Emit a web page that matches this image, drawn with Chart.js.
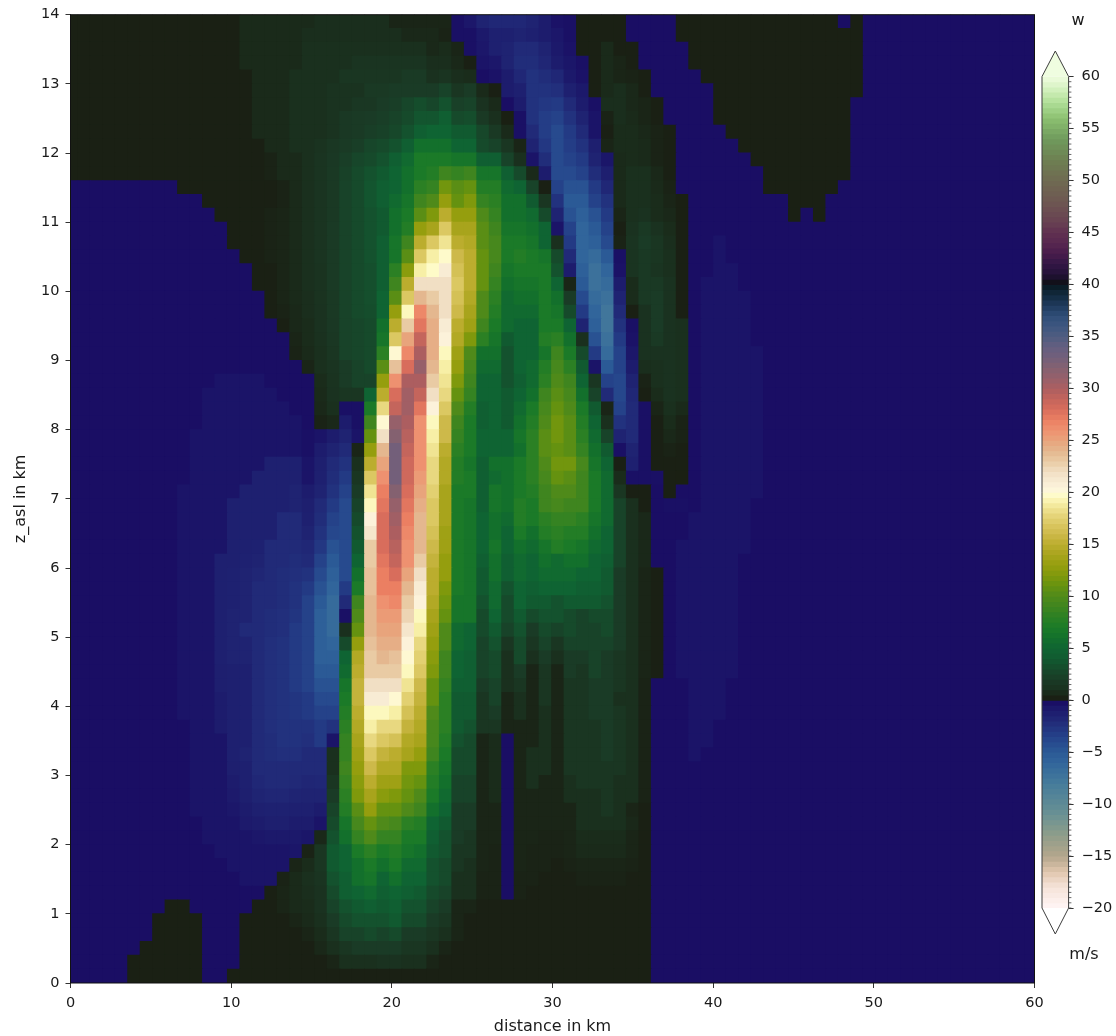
<!DOCTYPE html>
<html>
<head>
<meta charset="utf-8">
<title>w section</title>
<script src="https://cdn.jsdelivr.net/npm/chart.js@4/dist/chart.umd.js"></script>
<style>
  html, body { margin: 0; padding: 0; background: #fff; overflow: hidden; }
  #field { position: absolute; left: 0; top: 0; }
  #cbar { position: absolute; left: 1036px; top: 0; }
</style>
</head>
<body>
<canvas id="field" width="1116" height="1036"></canvas>
<canvas id="cbar" width="80" height="1036"></canvas>
<script>
// column centres in km
const xCentres = [0.07,0.846,1.622,2.398,3.174,3.95,4.726,5.502,6.278,7.054,7.83,8.606,9.382,10.158,10.934,11.71,12.486,13.262,14.038,14.814,15.59,16.366,17.142,17.918,18.694,19.47,20.246,21.022,21.798,22.574,23.35,24.126,24.902,25.678,26.454,27.23,28.006,28.782,29.558,30.334,31.11,31.886,32.662,33.438,34.214,34.99,35.766,36.542,37.318,38.094,38.87,39.646,40.422,41.198,41.974,42.75,43.526,44.302,45.078,45.854,46.63,47.406,48.182,48.958,49.734,50.51,51.286,52.062,52.838,53.614,54.39,55.166,55.942,56.718,57.494,58.27,59.046,59.822];
// row edges in km
const zEdges = [0,.2,.4,.6,.8,1,1.2,1.4,1.6,1.8,2,2.2,2.4,2.6,2.8,3,3.2,3.4,3.6,3.8,4,4.2,4.4,4.6,4.8,5,5.2,5.4,5.6,5.8,6,6.2,6.4,6.6,6.8,7,7.2,7.4,7.6,7.8,8,8.2,8.4,8.6,8.8,9,9.2,9.4,9.6,9.8,10,10.2,10.4,10.6,10.8,11,11.2,11.4,11.6,11.8,12,12.2,12.4,12.6,12.8,13,13.2,13.4,13.6,13.8,14];

// w in m/s, rows from the ground up, "v*n" = n cells of v
// columns 0-21
const wWest = [
"-.2*5 .3*6 -.2*2 .3*9",
"-.2*5 .3*6 -.2*3 .3*7 .5",
"-.2*6 .3*5 -.2*3 .3*6 .6 1",
"-.2*7 .3*4 -.2*3 .3*5 .5 .8 1.5",
"-.2*7 .3*4 -.2*3 .3*4 .5 .7 1 2",
"-.2*8 .3*2 -.2*5 .3 .3 .5 .7 .8 1.2 2.5",
"-.2*16 .3 .5 .7 .9 1.2 3",
"-.2*14 -.5*3 .4 .7 1 1.4 3.5",
"-.2*13 -.5*5 .5 .8 1.5 4",
"-.2*12 -.5*6 -.6 .4 1.5 4",
"-.2*11 -.5*4 -.7 -.8 -.8 -.8 -.6 .6 3.5",
"-.2*11 -.5*3 -.9 -1 -1.2 -1.2 -1 -1 -.5 3",
"-.2*10 -.5*3 -.7 -1 -1.3 -1.4 -1.4 -1.3 -1.3 -1 2.5",
"-.2*10 -.5*3 -.9 -1.2 -1.6 -1.7 -1.7 -1.6 -1.5 -1.5 2",
"-.2*10 -.5*3 -1 -1.3 -1.8 -2 -2 -1.9 -1.7 -1.8 1.5",
"-.2*10 -.5*3 -1.2 -1.3 -2 -2 -2 -2 -2 -2 1",
"-.2*10 -.5*3 -1.3 -1.5 -2 -2.2 -2.3 -2.3 -2 -2 1",
"-.2*10 -.5*3 -1.3*2 -2 -2.2 -2.5 -2.5 -2.3 -3 -.5",
"-.2*10 -.5*2 -1 -1.3*2 -2 -2.3 -2.5 -2.5 -2.5 -3 -2.5",
"-.2*9 -.5*3 -1 -1.3*2 -2 -2.3 -2.5 -2.7 -3 -3.5 -3.5",
"-.2*9 -.5*3 -1 -1.3*2 -2 -2.3 -2.5 -2.7 -3 -4 -4",
"-.2*9 -.5*3 -1.2 -1.3*2 -2 -2.3 -2.5 -3 -3.5 -4.5 -4.5",
"-.2*9 -.5*3 -1.2 -1.3*2 -2 -2.3 -2.5 -3 -3.5 -5 -5",
"-.2*9 -.5*3 -1.3 -1.5*2 -2 -2.3 -2.5 -3 -3.5 -5.5 -5.5",
"-.2*9 -.5*3 -1.3 -1.5*2 -2 -2.3 -2.5 -3 -3.5 -5.5 -6",
"-.2*9 -.5*3 -1.3 -1.5 -2 -2 -2.2 -2.3 -3 -3.5 -5.5 -6.5",
"-.2*9 -.5*3 -1.3 -1.5 -1.5 -2 -2.2 -2.3 -2.7 -3.5 -5.5 -6.5",
"-.2*9 -.5*3 -1.3 -1.4 -1.5 -2 -2 -2.2 -2.5 -3.5 -5 -6.5",
"-.2*9 -.5*3 -1.3 -1.4 -1.5 -2 -2 -2.2 -2.5 -3 -4.5 -6",
"-.2*9 -.5*3 -1.3 -1.4 -1.5 -1.7 -2 -2.2 -2.3 -2.5 -4 -5.5",
"-.2*9 -.5*3 -1.3 -1.3 -1.4 -1.5 -2 -2 -2.2 -2 -3.5 -5",
"-.2*9 -.5*4 -1.3 -1.3 -1.4 -2 -2 -2 -1.8 -2.8 -4.5",
"-.2*9 -.5*4 -1.3 -1.3 -1.3 -1.3 -2 -2 -1.5 -2.5 -3.8",
"-.2*9 -.5*4 -1.3*4 -2 -2 -1.3 -2.2 -3.5",
"-.2*9 -.5*4 -1.3*5 -1.5 -1.2 -2 -3",
"-.2*9 -.5*5 -1.3*4 -1.5 -1 -1.5 -2.5",
"-.2*10 -.5*5 -1.3*4 -.5 -1.3 -2.2",
"-.2*10 -.5*6 -1.3*3 -.5 -1.2 -2",
"-.2*10 -.5*9 -.3 -1 -1.5",
"-.2*10 -.5*9 -.3 -.5 -1",
"-.2*11 -.5*8 -.2 .4 .6",
"-.2*11 -.5*7 -.2*2 .6 1",
"-.2*11 -.5*6 -.2*3 .7 1.2",
"-.2*12 -.5*4 -.2*4 .8 1.3",
"-.2*19 .5 1 1.4",
"-.2*18 .4 .7 1 1.5",
"-.2*18 .5 .8 1.1 1.6",
"-.2*17 .3 .6 .8 1.2 1.7",
"-.2*16 .3 .4 .6 .9 1.2 1.8",
"-.2*16 .3 .5 .7 .9 1.3 1.8",
"-.2*15 .3 .3 .5 .7 1 1.3 1.9",
"-.2*15 .3 .3 .5 .7 1 1.3 1.9",
"-.2*14 .3 .3 .4 .5 .7 1 1.4 1.9",
"-.2*13 .3 .3 .3 .4 .5 .7 1 1.4 1.9",
"-.2*13 .3 .3 .3 .4 .5 .7 1 1.4 1.9",
"-.2*12 .3*4 .4 .5 .7 1 1.4 1.8",
"-.2*11 .3*5 .3 .4 .7 1 1.4 1.8",
"-.2*9 .3*7 .3 .4 .7 1 1.4 1.8",
".3*16 .4 .7 .7 1 1.4 1.8",
".3*16 .4 .7 .7 1 1.4 1.7",
".3*16 .7 .7 1 1 1.3 1.6",
".3*15 .7*3 1*3 1.3",
".3*15 .7*3 1*3 1.3",
".3*15 .7*3 1*3 1.3",
".3*15 .7*3 1*3 1.3",
".3*15 .7*3 1*4",
".3*14 .7*5 1*3",
".3*14 .7*5 1*3",
".3*14 .7*5 .9*3",
".3*14 .7*6 .9*2"
];
// columns 22-49
const wCore = [
".3*25 -.2*3",
"1 1 1 1.2 1.2 1 1 .5 .3*17 -.2*3",
"1.5 2 2 2 2 1.5 1.5 1 .5 .3*16 -.2*3",
"2.5 2.5 3 2.5 3 2 2 1.5 1 .5 .3*15 -.2*3",
"3 3.5 3.5 3.5 4 3 3 2 1.5 .5 .3*15 -.2*3",
"3.5 4 4.5 4 4.5 3.5 3.5 2.5 2 .5 .5 .3*14 -.2*3",
"4.5 5 5.5 4.5 5 4.5 4 3 2.5 1 1 .4 .4 -.2 .4 .3*10 -.2*3",
"4.5 6 6.5 5 6 5 5 3.5 3 1 1 .4 .4 -.2 .4 .4 .3 .3 .3 .4 .4 .4 .4 .3 .3 -.2*3",
"5 6 7 6 7 5.5 5.5 3.5 3 1.5 1 .5 .4 -.2 .5 .4 .4 .3 .4 .5 .5 .5 .5 .4 .3 -.2*3",
"5 7 8 7 7.5 6.5 6 4 3.5 1.5 1.5 .5 .4 -.2 .5 .4 .4 .4 .5 .7 .7 .7 .7 .5 .3 -.2*3",
"6 8.5 10 8.5 8.5 7 7 4.5 3.5 2 1.5 .5 .5 -.2 .5 .5 .4 .4 .5 .8 .8 .8 .8 .5 .3 -.2*3",
"6.5 9.5 11 10 9.5 8 7.5 5 4 2 2 .5 .5 -.2 .5 .5 .5 .5 .5 1 1 1 1 .6 .3 -.2*3",
"7.5 10.5 13 11 11 10 9 6 5 2 2 .5 .5 -.2 .5 .5 .5 .5 .5 1 1 1.5 1 .5 .3 -.2*3",
"8 12 14 12.5 12 11 10 7 5.5 2.5 2.5 .5 .8 -.2 .5 .5 .5 .5 1 1 1 1.5 1 1 .4 -.2*3",
"8.5 12.5 15 13.5 13.5 11.5 11 7.5 6 2.5 2.5 .5 .8 -.2 .5 1 .5 .5 1 1.5 1.5 1.5 1 1 .4 -.2*3",
"9 13 16 14.5 14.5 12 12 8 6.5 3 3 .5 .8 -.2 .5 1 1 .5 1.5 1.5 1.5 1.5 1.5 1 .4 -.2*3",
"8.5 13.5 17 15.5 15 14 13 9 7 3 3 .5 .8 -.2 .5 1 1 .5 1.5 1.5 1.5 2 1.5 1 .4 -.2*3",
"8.5 14 18 17 16.5 14.5 14 9.5 7.5 3.5 3 .5 .8 -.2 .5 .5 1 .5 1.5 1.5 1.5 2 1.5 1 .4 -.2*3",
"8 14.5 19 18 18 15.5 14.5 9.5 8 4 3.5 1.5 1.5 .5 .5 .5 1 .5 1.5 1.5 1.5 2 1.5 1 .4 -.2*3",
"7.5 15 19.5 19.5 19 16.5 15 10 8 4 4 1.5 2 .5 1 .5 1 .5 1.5 1.5 2 2 1.5 1 .4 -.2*3",
"7 15.5 21 21 20 17.5 15.5 11 8 4 4 1.5 2.5 .5 1 .5 1.5 .5 1.5 1.5 2 2 1 1 .4 -.2*3",
"6.5 15.5 22 22 22 18.5 16 11 8.5 4.5 4.5 2 2.5 1 1.5 .5 1.5 .5 1.5 1.5 2 2 1.5 1 .4 -.2*3",
"5.5 15 23 23 23 19.5 17 12 9 5 4.5 2.5 3 1 2 .5 1.5 .5 2 1.5 2.5 2 1.5 1 .5 .3 -.2 -.5",
"5 14.5 23 24 23.5 20 17.5 12.5 9 5 4.5 2.5 3 1 3 1 2 1 2 2 2.5 2 1.5 1 .5 .3 -.2 -.5",
"3 13 23.5 24.5 24.5 20.5 18 13 10 5.5 5 2.5 3.5 1.5 3 1.5 2.5 1.5 2.5 2.5 2.5 2.5 2 1 .5 .3 -.2 -.5",
"1 11 24 25 25 21.5 19 13.5 10 5.5 5 3 4 2.5 3.5 2 3 2.5 3 2.5 2.5 3 2 1 .5 .3 -.2 -.5",
"-.3 10 24 25.5 25.5 22.5 19.5 14 11 6.5 6.5 3 5 3 4 3 3.5 3.5 3 2.5 3 3 2 1 .5 .3 -.2 -.5",
"-2 9 24 26 26.5 23 20.5 14.5 11.5 6.5 6.5 3.5 5.5 3 5 4 4 3.5 4 4 4 3.5 2 1 .5 .3 -.2 -.5",
"-3 7 23.5 27 27 24 21 15 12 7 6.5 4 5.5 3.5 5 4.5 5 5 5 4.5 4.5 4 2 1 .5 .3 -.2 -.5",
"-4 6 23.5 27 28 25 22 15 13 7 6.5 4 6 4.5 5.5 5 5.5 5.5 5.5 5 5 4 2 1 .5 .3 -.2 -.5",
"-4 5 23 27.5 29 26 23 15.5 13 7 6.5 4.5 6 4.5 5.5 5 6 5.5 6 6 5 4.5 2.5 1 .6 -.2 -.2 -.5",
"-4 4 23 28 29.5 26 24 16 13.5 7 6.5 5 6.5 5 6 5.5 6.5 7.5 7 6.5 5.5 5 2.5 1 .6 -.2 -.2 -.5",
"-4 3.5 21.5 28 30 26.5 24 16.5 13.5 7 6.5 5 6 5 7 6 7.5 8 7.5 7.5 6 5 2.5 1 .6 -.2 -.2 -.2",
"-4 3 20.5 28 30.5 27 24 17 14 7 6.5 5 6 5.5 7.5 7 8 8.5 8.5 8 6.5 5.5 2.5 1 .6 -.2 -.2 -.2",
"-4 2.5 19.5 27.5 31 27.5 24.5 17 14 7 6.5 4.5 6.5 6 7.5 7 9 9.5 9 9 7 5.5 2.5 1 .3 -.2 -.3 -.3",
"-3.5 2 18.5 27 32 28 25 17.5 14 7 7 4.5 6.5 6 7 7.5 9 10 10 9 7 5.5 1.5 .3 .3 -.2 .3 -.2",
"-3 1.5 17 26 33 28.5 25.5 18 14.5 7.5 7 4.5 5.5 6 7 8 9.5 11 10.5 9 7 5.5 .8 -.3 -.3 -.3 .3 .2",
"-2.5 1 15 25 33 28.5 26 18 14.5 7.5 6.5 4.5 6 6 7 8 10 11.5 11.5 9.5 6.5 5 .3 -1.3 -.3 .3 .3 .3",
"-2 .5 13 24 33 29 26 18.5 15 8 7 5 5 5 6 8 10.5 11 10.5 8.5 6 4 -.3 -1.5 -.3 .3 .4 .3",
"-1.5 -.5 11 22 32 29.5 26 19 16 8.5 7 5 5 5 6.5 8 10.5 11.5 10.5 8 5.5 2.5 -1.5 -2 -.3 .3 .6 .4",
"-1 -.3 9 20 31 30 26 19.5 16 9 7 4.5 5 4 6 7.5 10 11.5 10.5 7.5 5 1 -2.5 -2 -.3 .3 .8 .4",
"-.3 -.3 7 18 29 30.5 27.5 20.5 17 10 7.5 4.5 5 4 5.5 7 9.5 11 10 7 4 .5 -3.5 -2 -.3 .5 1 .7",
"1.5 1.5 5 15 28 30.5 29 22 18 11 8.5 5 5 4 5 6 9 10.5 9.5 6 2.5 -2 -3.8 -1.8 .3 .8 1.2 1",
"2 2.5 2.5 13 26 30 30 23 18.5 12 9 5 5 3.5 4.5 5.5 8 10 9 5 1.5 -3.5 -3.8 -1.5 .4 1 1.2 1",
"2 2.5 3 10.5 23.5 28 31 24 19 13 9.5 5.5 5.5 3.5 5 5.5 7.5 9.5 8 4 -.5 -5 -3.5 -1 .9 1 1.2 1",
"2.5 2.7 3 8 20 26.5 30 24.5 19.5 13.5 10 6 6 3.5 5 5 6.5 9 7 3 -3 -6.5 -3.5 -.7 1.2 1.2 1.2 1",
"2.5 2.7 3 6.5 17 25 29 24.5 20.5 14.5 12 8 6.5 4 5 5 7.5 8 6 1 -4.5 -7 -3 -.4 1.2 1.8 1.2 1",
"2.5 2.7 3 6 15 23 27.5 24.5 21 15 13.5 9 7 5.5 5 5 7 7 5 -1.5 -5.5 -7.5 -2.5 -.3 1.2 2 1.2 1",
"2.5 3 3.2 5 13 19.5 26.5 24 22 16 14 10 7.5 5.5 5.5 5.5 7 6.5 3 -3 -6 -7.5 -2 .3 1.2 2 1.2 .3",
"2.5 3 3.3 5 10.5 17 24 23 22 16.5 14.5 10 8 5.5 6 6 7 6 2 -4 -6.5 -7 -1.5 .8 1.8 2 1.2 .3",
"2.5 3 3.3 4.5 9 15 22 22 22 17 15 11 8.5 6 6.5 6.5 7 5 .5 -5 -7 -6.5 -1 .8 1.8 1.8 1.2 .3",
"2.5 3 3.3 4.5 8 12.5 19 19.7 21 16.5 15 11 9 6.5 7 7 7 3.5 -1 -5.5 -7 -6 -.4 1.4 1.8 1.4 1 .3",
"2.5 3 3.5 4.5 6.5 10.5 17 19 19.8 16 15 11 9.5 7 7.5 7 6.5 3 -2 -6 -6.5 -5 -.3 1.4 1.8 1.5 1 .3",
"2.5 3 3.5 4.5 6.5 9 15 17 18.5 15 14.5 10.5 9.5 7 7 6.5 5 1 -3 -6 -5.5 -4 .4 1.4 2 1.5 .9 .3",
"2.5 3 3.5 4 6 7.5 13 14 17 14 14 10.5 9 6.5 6.5 6 5 -.5 -3.5 -6 -5 -3.5 .3 1.2 1.8 1.2 .8 .3",
"2.5 3 3.5 4 6 7 10.5 12 15 13 13 10 8.5 6 6 5.5 3 -1.5 -4.5 -5.5 -4.5 -3 .5 1 1.2 .8 .6 .2",
"2.5 3 3.7 4.5 5.5 6.5 9 10 13 11 12 8.5 8 6 6 4 1.5 -2.5 -5 -5 -3.5 -2.5 .7 1 1 .8 .5 .2",
"2.5 3 3.7 4.5 5 6 8 8.5 11.5 10.5 11 7.5 7.5 5.5 5 2.5 .3 -3.5 -4.5 -4.5 -3 -1.8 .7 1 1 .7 .4 -.2",
"2.4 3 3.5 4 5 6 7 7.5 9 8.5 9 6.5 6.5 4.5 3 .7 -1 -4 -4 -3.5 -2.2 -1.2 .7 1 1 .6 .3 -.2",
"2.2 2.7 3 3.5 4.5 5.5 7 7 7 6.5 6.5 4.5 4.5 2.5 1 -.5 -2.2 -4 -3.5 -3 -1.5 -.6 .7 .8 .7 .4 .3 -.2",
"1.9 2.2 2.7 3 3.5 4.5 6 6 6 5 5 3 2.5 1.5 .5 -1.5 -2.8 -4 -3.2 -2.5 -1.2 .5 .8 .8 .7 .4 .3 -.2",
"1.7 1.9 2.2 2.4 2.8 3.5 4.5 5 5 4 4 2.8 1.8 .7 -.3 -2 -3.2 -4 -3 -2 -.5 .3 .8 .8 .6 .4 .3 -.2",
"1.7 1.9 2 2.2 2.5 3 3.7 3.7 4.5 3 3.2 1.8 1 .2 -.3 -2.5 -3.2 -3.5 -2.5 -1.5 -.5 .4 .9 .7 .5 .3 -.2 -.2",
"1.3 1.6 1.6 2 2.2 2.7 3.2 2.7 3.5 2.3 2.5 1.2 .7 -.2 -1 -2.5 -2.8 -3 -2 -1 -.3 .9 .9 .6 .5 .3 -.2 -.2",
"1.3 1.3 1.8 1.8 2 2 2 2 2.5 1.5 2 .7 .3 -1 -1.3 -2.5 -2.5 -2.3 -1.3 -.8 .3 .7 .9 .6 .3 -.2 -.2 -.2",
"1.5*5 1.9 1.9 1.1 1.4 .9 .8 -.2 -.4 -1 -1.8 -2.5 -2.2 -1.8 -.8 -.4 .3 .7 .5 .4 .3 -.2 -.2 -.2",
"1 1.4*6 .9 .9 .6 .3 -.5 -.7 -1.5 -2.2 -2.2 -1.7 -1 -.6 -.3 .3 .7 .5 .3 -.2*4",
"1*7 .6 .8 .5 -.3 -.7 -1.3 -1.5 -2 -2 -1.5 -.8 -.4 .3 .3 .7 .3 .3 -.2*4",
".9*5 .6*3 .4 -.3 -.3 -.8 -1.3 -1.3 -1.5 -1.3 -1 -.7 -.3 .3*4 -.2*4 .3",
".9*4 .5*5 -.3 -.7 -1.5 -1.8 -1.8 -1.8 -1.5 -1 -.4 -.3 .3*4 -.2*4 .3"
];
// columns 50-77
const wEast = [
"-.2*28","-.2*28","-.2*28","-.2*28","-.2*28","-.2*28","-.2*28","-.2*28","-.2*28","-.2*28",
"-.2*28","-.2*28","-.2*28","-.2*28","-.2*28","-.2*28",
"-.5 -.2*27",
"-.5*2 -.2*26","-.5*2 -.2*26",
"-.5*3 -.2*25","-.5*3 -.2*25","-.5*3 -.2*25",
"-.5*4 -.2*24","-.5*4 -.2*24","-.5*4 -.2*24","-.5*4 -.2*24","-.5*4 -.2*24","-.5*4 -.2*24","-.5*4 -.2*24","-.5*4 -.2*24","-.5*4 -.2*24",
"-.5*5 -.2*23","-.5*5 -.2*23","-.5*5 -.2*23",
"-.2 -.5*4 -.2*23",
"-.2 -.5*5 -.2*22","-.2 -.5*5 -.2*22","-.2 -.5*5 -.2*22","-.2 -.5*5 -.2*22","-.2 -.5*5 -.2*22","-.2 -.5*5 -.2*22",
"-.2 -.5*5 -.2*22","-.2 -.5*5 -.2*22","-.2 -.5*5 -.2*22","-.2 -.5*5 -.2*22","-.2 -.5*5 -.2*22",
"-.2 -.5*4 -.2*23","-.2 -.5*4 -.2*23","-.2 -.5*4 -.2*23","-.2 -.5*4 -.2*23",
"-.2 -.5*3 -.2*24",
"-.2*2 -.5*2 -.2*24",
"-.2*2 -.5 -.2*25","-.2*2 -.5 -.2*25",
"-.2*28",
"-.2*8 .3 -.2 .3 -.2*17",
"-.2*8 .3*3 -.2*17",
"-.2*6 .3*6 -.2*16",
"-.2*6 .3*7 -.2*15",
"-.2*5 .3*8 -.2*15",
"-.2*4 .3*9 -.2*15",
"-.2*3 .3*10 -.2*15",
"-.2*2 .3*11 -.2*15",
"-.2*2 .3*11 -.2*15",
"-.2*2 .3*12 -.2*14",
"-.2 .3*13 -.2*14",
".3*14 -.2*14",
".3*14 -.2*14",
".3*14 -.2*14",
".3*12 -.2 .3 -.2*14"
];

// colour bar
const cbarStopValues = [-20,-18,-16.5,-15,-13,-11,-8,-6,-5,-4,-3,-2,-1.3,-.5,-.2,-.001,.001,.3,.7,1,2,3,4,5,6,7,8,9,10,11,12,13,14,15,16,17,18,19,19.7,20.3,21,22,23,24,25,26,27,28,29,30,31,32,33,34,35,36,37,38,39,39.9,40.1,41,42,43,44,45,46,48,50,52,54,56,57,58,59,60];
const cbarStopColors = ['#fff5f5','#f6e4da','#e0c6ae','#b3a68c','#8f9d8a','#6a9193','#467c9b','#31659b','#2b5a96','#274a8e','#233a84','#212a78','#1e2070','#1b1468','#1a0e64','#1a0c62','#1a1f12','#1a2014','#1a2a1a','#1a301e','#1a3b26','#164a2b','#115a30','#0f6433','#13702c','#1b7a28','#2b8024','#3f851f','#4f8a1a','#659210','#7f990c','#959e0e','#a8a41c','#bbad2e','#cdb94a','#dbc862','#e8d880','#f7efa6','#fefbc8','#fdf5dc','#f8ecd4','#f1dfc4','#e9cba4','#e4b78f','#e8a47c','#ee9170','#eb7f62','#d86d5c','#c4655c','#ac5e60','#96606a','#846170','#735f7a','#645f80','#4f5c80','#3d5680','#2f4e78','#1f3a5c','#122a3f','#0a1a24','#0f1014','#231238','#331645','#481c4c','#582850','#603050','#684152','#6e5852','#6f6a52','#6e8052','#6f9a5c','#8cc070','#a2d48a','#bde6a5','#d8f3c4','#eefcdf'];
const cbarBandTicks = [-20,-15,-10,-5,0,5,10,15,20,25,30,35,40,45,50,55,60];
const overColor = '#effde0';
const underColor = '#ffffff';

const TICK_FONT = { family: '"DejaVu Sans"', size: 14.5 };
const LABEL_FONT = { family: '"DejaVu Sans"', size: 16 };
const TEXT = '#1a1a1a';

function unpack(s) {
  const out = [];
  s.split(' ').forEach(tok => {
    const [v, n] = tok.split('*');
    for (let i = 0; i < Number(n || 1); i++) out.push(Number(v));
  });
  return out;
}

function hexRgb(h) {
  return [1, 3, 5].map(i => parseInt(h.substr(i, 2), 16));
}

function colorFor(v) {
  const vals = cbarStopValues;
  if (v <= vals[0]) return cbarStopColors[0];
  for (let i = 1; i < vals.length; i++) {
    if (v <= vals[i]) {
      const t = (v - vals[i - 1]) / (vals[i] - vals[i - 1]);
      const a = hexRgb(cbarStopColors[i - 1]);
      const b = hexRgb(cbarStopColors[i]);
      return 'rgb(' + a.map((c, k) => Math.round(c + (b[k] - c) * t)).join(',') + ')';
    }
  }
  return cbarStopColors[cbarStopColors.length - 1];
}

// one floating-bar dataset per height level
const bad = [];
const datasets = wWest.map((_, r) => {
  const a = unpack(wWest[r]), b = unpack(wCore[r]), c = unpack(wEast[r]);
  if (a.length !== 22 || b.length !== 28 || c.length !== 28) bad.push(r + ':' + a.length + '/' + b.length + '/' + c.length);
  const vals = a.concat(b, c);
  return {
    data: xCentres.map(x => ({ x: x, y: [zEdges[r], zEdges[r + 1]] })),
    backgroundColor: vals.map(colorFor),
    grouped: false,
    barPercentage: 1,
    categoryPercentage: 1,
    borderWidth: 0,
    inflateAmount: 0.5
  };
});
if (bad.length) throw new Error('row lengths ' + bad.join(' '));

const frame = {
  id: 'frame',
  afterDatasetsDraw(chart) {
    const { ctx, chartArea: a } = chart;
    ctx.save();
    ctx.strokeStyle = '#111';
    ctx.lineWidth = 1;
    ctx.strokeRect(a.left, a.top, a.right - a.left, a.bottom - a.top);
    ctx.restore();
  }
};

new Chart(document.getElementById('field'), {
  type: 'bar',
  data: { datasets },
  options: {
    responsive: false,
    animation: false,
    events: [],
    layout: { padding: { top: 13, right: 81.5, left: 0, bottom: 0 } },
    plugins: { legend: { display: false }, tooltip: { enabled: false } },
    scales: {
      x: {
        type: 'linear', min: 0, max: 60, offset: false,
        grid: { offset: false, drawOnChartArea: false, tickLength: 5, tickColor: '#333' },
        border: { display: false },
        ticks: { stepSize: 10, color: TEXT, font: TICK_FONT, padding: 7, maxRotation: 0 },
        title: { display: true, text: 'distance in km', color: TEXT, font: LABEL_FONT, padding: { top: 2.4, bottom: 0 } },
        afterFit(s) { s.height = 53; }
      },
      y: {
        type: 'linear', min: 0, max: 14, beginAtZero: false,
        grid: { drawOnChartArea: false, tickLength: 5, tickColor: '#333' },
        border: { display: false },
        ticks: { stepSize: 1, color: TEXT, font: TICK_FONT, padding: 6 },
        title: { display: true, text: 'z_asl in km', color: TEXT, font: LABEL_FONT, padding: { top: 11.4, bottom: 0 } },
        afterFit(s) { s.width = 70.5; }
      }
    }
  },
  plugins: [frame]
});

// colour bar: half m/s bands, extensions and unit labels
const bandStarts = [];
for (let v = -20; v < 60; v += 0.5) bandStarts.push(v);

const cbarDecor = {
  id: 'cbarDecor',
  afterDatasetsDraw(chart) {
    const { ctx, chartArea: a, scales } = chart;
    const y = scales.y;
    const mid = (a.left + a.right) / 2;
    const top = y.getPixelForValue(60), bottom = y.getPixelForValue(-20);
    ctx.save();
    ctx.beginPath();
    ctx.moveTo(a.left, top); ctx.lineTo(mid, 51); ctx.lineTo(a.right, top); ctx.closePath();
    ctx.fillStyle = overColor; ctx.fill();
    ctx.beginPath();
    ctx.moveTo(a.left, bottom); ctx.lineTo(mid, 934); ctx.lineTo(a.right, bottom); ctx.closePath();
    ctx.fillStyle = underColor; ctx.fill();
    ctx.beginPath();
    ctx.moveTo(a.left, top); ctx.lineTo(mid, 51); ctx.lineTo(a.right, top);
    ctx.lineTo(a.right, bottom); ctx.lineTo(mid, 934); ctx.lineTo(a.left, bottom);
    ctx.closePath();
    ctx.strokeStyle = '#3c3c3c'; ctx.lineWidth = 1; ctx.stroke();
    // minor ticks
    ctx.strokeStyle = '#444'; ctx.lineWidth = 0.8;
    bandStarts.forEach(v => {
      const p = y.getPixelForValue(v);
      ctx.beginPath(); ctx.moveTo(a.right, p); ctx.lineTo(a.right + 2.8, p); ctx.stroke();
    });
    ctx.fillStyle = TEXT;
    ctx.font = '16px "DejaVu Sans"';
    ctx.textAlign = 'center';
    ctx.textBaseline = 'middle';
    ctx.fillText('w', 1078 - 1036, 21);
    ctx.fillText('m/s', 1084 - 1036, 955);
    ctx.restore();
  }
};

new Chart(document.getElementById('cbar'), {
  type: 'bar',
  data: {
    datasets: [{
      data: bandStarts.map(v => ({ y: v + 0.25, x: [0, 1] })),
      backgroundColor: bandStarts.map(v => colorFor(v + 0.25)),
      barPercentage: 1,
      categoryPercentage: 1,
      borderWidth: 0,
      inflateAmount: 0.5
    }]
  },
  options: {
    indexAxis: 'y',
    responsive: false,
    animation: false,
    events: [],
    layout: { padding: { left: 6, right: 0, top: 76.5, bottom: 128 } },
    plugins: { legend: { display: false }, tooltip: { enabled: false } },
    scales: {
      x: { type: 'linear', min: 0, max: 1, display: false, offset: false },
      y: {
        type: 'linear', min: -20, max: 60, position: 'right', offset: false, reverse: false,
        grid: { offset: false, drawOnChartArea: false, tickLength: 5, tickColor: '#333' },
        border: { display: false },
        afterBuildTicks(s) { s.ticks = cbarBandTicks.map(v => ({ value: v })); },
        ticks: { color: TEXT, font: TICK_FONT, padding: 8, callback: v => String(v).replace('-', '\u2212') },
        afterFit(s) { s.width = 47.4; }
      }
    }
  },
  plugins: [cbarDecor]
});
</script>
</body>
</html>
